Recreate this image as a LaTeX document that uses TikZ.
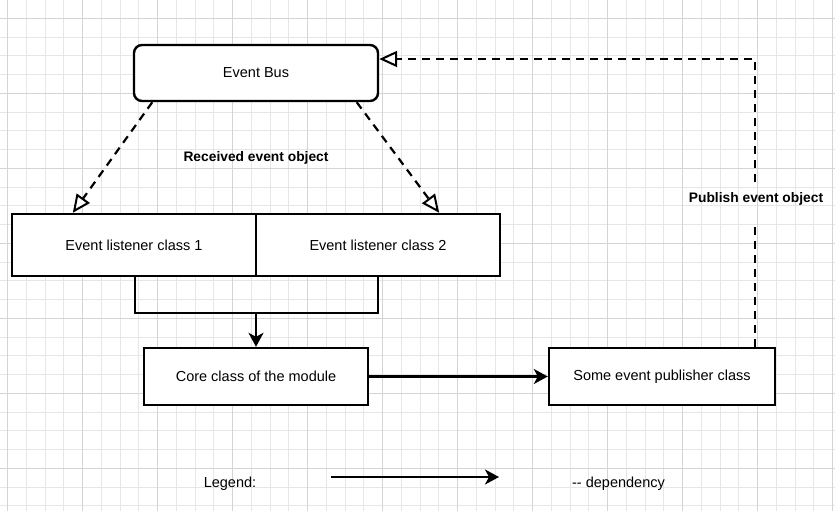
\documentclass[tikz,border=0pt]{standalone}
\usepackage{fontspec}
\setmainfont{Liberation Sans}
\usetikzlibrary{arrows.meta}
\definecolor{minorgrid}{HTML}{E6E6E6}
\definecolor{majorgrid}{HTML}{D4D4D4}
\begin{document}
\begin{tikzpicture}[x=1pt,y=-1pt,
  box/.style={draw=black,line width=2.4pt,fill=white,inner sep=0pt,
    font=\fontsize{14.5}{16}\selectfont,align=center},
  busbox/.style={box,rounded corners=8pt},
  lbl/.style={font=\bfseries\fontsize{13.8}{16}\selectfont,inner sep=0pt},
  plain/.style={font=\fontsize{14.5}{16}\selectfont,inner sep=0pt},
  dep/.style={line width=2.2pt,-{Stealth[length=14pt,width=15pt,inset=4pt]}},
  evt/.style={line width=2.2pt,dash pattern=on 8pt off 6pt,
    -{Triangle[open,length=18pt,width=16pt,fill=white,line width=2pt]}},
  evtline/.style={line width=2.2pt,dash pattern=on 8pt off 6pt},
  joint/.style={line width=2.4pt}]
\useasboundingbox (0,0) rectangle (835,511);
\fill[white] (0,0) rectangle (835,511);
% grid
\foreach \i in {0,...,44}{\draw[minorgrid,line width=1pt] ({7.7+18.75*\i},0) -- ({7.7+18.75*\i},511);}
\foreach \j in {0,...,26}{\draw[minorgrid,line width=1pt] (0,{18.3+18.75*\j}) -- (835,{18.3+18.75*\j});}
\foreach \i in {0,...,11}{\draw[majorgrid,line width=1pt] ({7.7+75*\i},0) -- ({7.7+75*\i},511);}
\foreach \j in {0,...,6}{\draw[majorgrid,line width=1pt] (0,{18.3+75*\j}) -- (835,{18.3+75*\j});}
% nodes
\node[busbox,minimum width=244pt,minimum height=56pt] (bus) at (256,73) {Event Bus};
\node[box,minimum width=244pt,minimum height=62pt] (l1) at (134,245) {Event listener class 1};
\node[box,minimum width=244pt,minimum height=62pt] (l2) at (378,245) {Event listener class 2};
\node[box,minimum width=224pt,minimum height=57pt] (core) at (256,376.5) {Core class of the module};
\node[box,minimum width=226pt,minimum height=57pt] (pub) at (662,376.5) {Some event publisher class};
\node[lbl] (rlabel) at (256,158) {Received event object};
\node[lbl] (plabel) at (756,199) {Publish event object};
\node[plain] (legend) at (230,484) {Legend:};
\node[plain] (deptext) at (618.5,484) {-{}- dependency};
% event bus to listeners
\draw[evt] ([xshift=19.5pt]bus.south west) -- ([xshift=62pt]l1.north west);
\draw[evt] ([xshift=-22.5pt]bus.south east) -- ([xshift=-62pt]l2.north east);
% publisher to bus
\coordinate (pbelow) at (755,221.7);
\coordinate (pabove) at (755,181.7);
\coordinate (pcorner) at (755,59);
\draw[evtline] (pbelow |- pub.north) -- (pbelow);
\draw[evt] (pabove) -- (pcorner) -- (bus.east |- pcorner);
% listeners joined to core
\coordinate (j1) at (134.7,312.7);
\coordinate (j2) at (378,312.7);
\coordinate (jm) at (256,312.7);
\draw[joint] (l1.south -| j1) -- (j1) -- (j2) -- (l2.south -| j2);
\draw[dep] (jm) -- (core.north);
% core to publisher
\draw[dep] (core.east) -- (pub.west);
% legend arrow
\coordinate (la) at (331,477);
\coordinate (lb) at (499,477);
\draw[dep] (la) -- (lb);
\end{tikzpicture}
\end{document}
